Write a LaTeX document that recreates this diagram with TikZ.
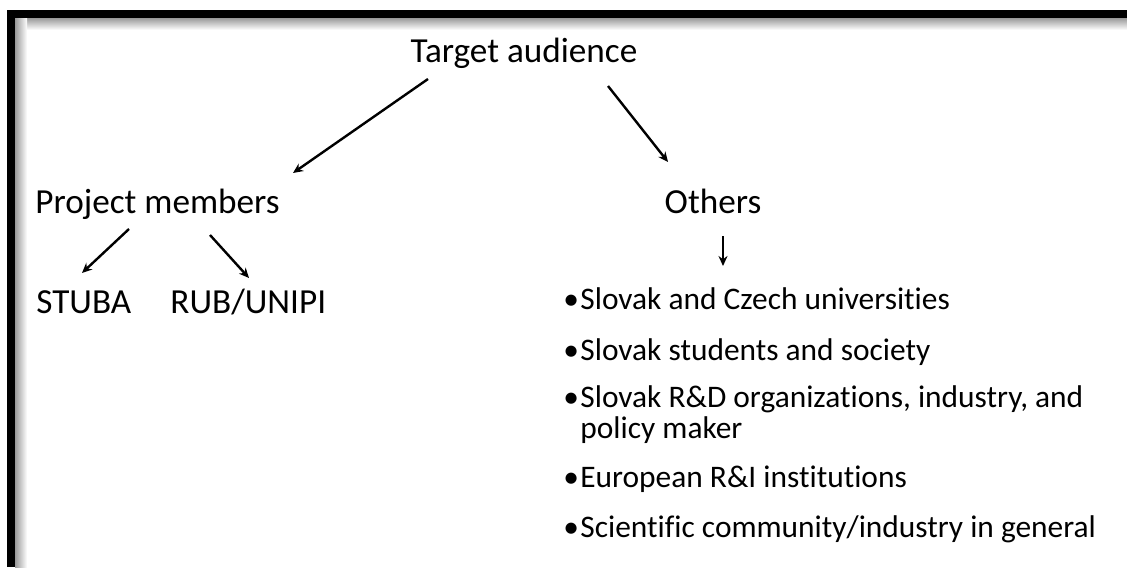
\documentclass[tikz,border=0pt]{standalone}
\usepackage{fontspec}
\setmainfont{Carlito}[Ligatures=NoCommon]
\usetikzlibrary{arrows.meta}

\begin{document}
\begin{tikzpicture}[x=0.5pt,y=-0.5pt,
  lbl/.style={inner sep=0pt,font=\fontsize{17.6}{18}\selectfont},
  itm/.style={inner sep=0pt,anchor=base west,align=left,font=\fontsize{15.7}{15.5}\selectfont},
  arr/.style={line width=1.2pt,-{Stealth[length=5pt,width=4.5pt]}}]
\useasboundingbox (0,0) rectangle (1127,567);
\shade[top color=black!40,bottom color=white] (7,18) rectangle (1127,30);
\shade[left color=black!40,right color=white] (15,18) rectangle (27,567);
\fill (7,10) rectangle (1127,18);
\fill (7,10) rectangle (15,567);
\node[lbl,anchor=base] (T) at (524,62) {Target audience};
\node[lbl,anchor=base west] (P) at (35,213) {Project members};
\node[lbl,anchor=base] (O) at (713,213) {Others};
\node[lbl,anchor=base west] (S) at (36,313) {STUBA};
\node[lbl,anchor=base west] (R) at (170,313) {RUB/UNIPI};
\node[itm] (L1) at (563,309) {\makebox[8.5pt][l]{•}Slovak and Czech universities};
\node[itm] (L2) at (563,360) {\makebox[8.5pt][l]{•}Slovak students and society};
\node[itm] (L3) at (563,438) {\makebox[8.5pt][l]{•}Slovak R\&D organizations, industry, and\\\hspace*{8.5pt}policy maker};
\node[itm] (L4) at (563,487) {\makebox[8.5pt][l]{•}European R\&I institutions};
\node[itm] (L5) at (563,537) {\makebox[8.5pt][l]{•}Scientific community/industry in general};
\draw[arr] ([shift={(-96,17)}]T.base) -- ([shift={(258,-40)}]P.base west);
\draw[arr] ([shift={(84,24)}]T.base) -- ([shift={(-45,-51)}]O.base);
\draw[arr] ([shift={(94,16)}]P.base west) -- ([shift={(46,-40)}]S.base west);
\draw[arr] ([shift={(175,22)}]P.base west) -- ([shift={(79,-35)}]R.base west);
\draw[arr] ([shift={(10,23)}]O.base) -- ([shift={(160,-43)}]L1.base west);
\end{tikzpicture}
\end{document}
